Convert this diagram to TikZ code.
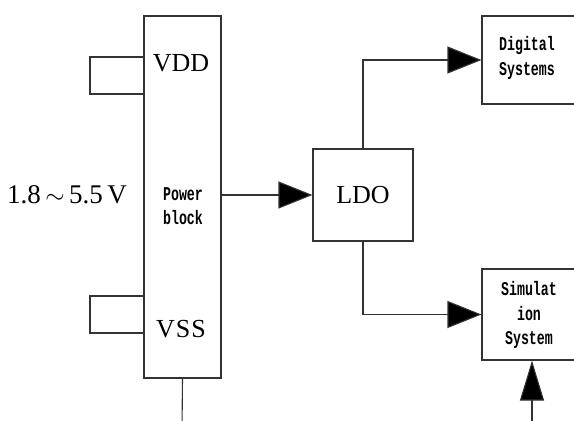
\documentclass[tikz,border=0pt]{standalone}
\usepackage{fontspec}
\setmainfont{Liberation Serif}
\setmonofont{Liberation Mono}
\usetikzlibrary{arrows.meta,calc}
\newcommand{\monoline}[1]{\scalebox{0.68}[1]{#1}}
\begin{document}
\begin{tikzpicture}[x=1pt,y=-1pt,
  line/.style={draw=black!80,line width=1.1pt},
  boxnode/.style={draw=black!80,line width=1.1pt,fill=white,inner sep=0pt},
  bigtext/.style={font=\fontsize{26}{28}\selectfont},
  monotext/.style={font=\ttfamily\bfseries\fontsize{19.5}{24.5}\selectfont,align=center},
  head/.style={-{Triangle[length=34pt,width=27pt,fill=black]}}]
\useasboundingbox (0,0) rectangle (574,421);
\clip (0,0) rectangle (574,421);
% power block
\node[boxnode,minimum width=77pt,minimum height=362pt] (pb) at (182.5,197) {};
\node[bigtext] (vdd) at (181,63) {VDD};
\node[bigtext] (vss) at (181,329) {V\kern1ptS\kern1ptS};
\node[monotext] (pbt) at (183,206) {\monoline{Power}\\\monoline{block}};
\node[font=\fontsize{27}{28}\selectfont] (volt) at (67,195) {1.8\,$\sim$\,5.5\,V};
% loops
\coordinate (l1a) at (144,57); \coordinate (l1b) at (144,94);
\coordinate (l2a) at (144,296); \coordinate (l2b) at (144,333);
\draw[line] (l1a) -- (90,57) -- (90,94) -- (l1b);
\draw[line] (l2a) -- (90,296) -- (90,333) -- (l2b);
% bottom line
\coordinate (pbot) at (182,430);
\draw[line] (pb.south) -- (pbot);
% LDO
\node[boxnode,minimum width=100pt,minimum height=92pt,bigtext] (ldo) at (363,195) {LDO};
% Digital
\node[boxnode,minimum width=140pt,minimum height=88pt] (dig) at (552,60) {};
\node[monotext] (digt) at (527,58) {\monoline{Digital}\\\monoline{Systems}};
% Simulation
\node[boxnode,minimum width=140pt,minimum height=91pt] (sim) at (552,314.5) {};
\node[monotext] (simt) at (529,315) {\monoline{Simulat}\\\monoline{ion}\\\monoline{System}};
% connectors
\draw[line,head] (pb.east |- ldo.west) -- (ldo.west);
\draw[line,head] (ldo.north) |- (dig.west);
\draw[line,head] (ldo.south) |- (sim.west);
\coordinate (sbot) at (532,430);
\draw[line,-{Triangle[length=40pt,width=24pt,fill=black]}] (sbot) -- (sbot |- sim.south);
\end{tikzpicture}
\end{document}
